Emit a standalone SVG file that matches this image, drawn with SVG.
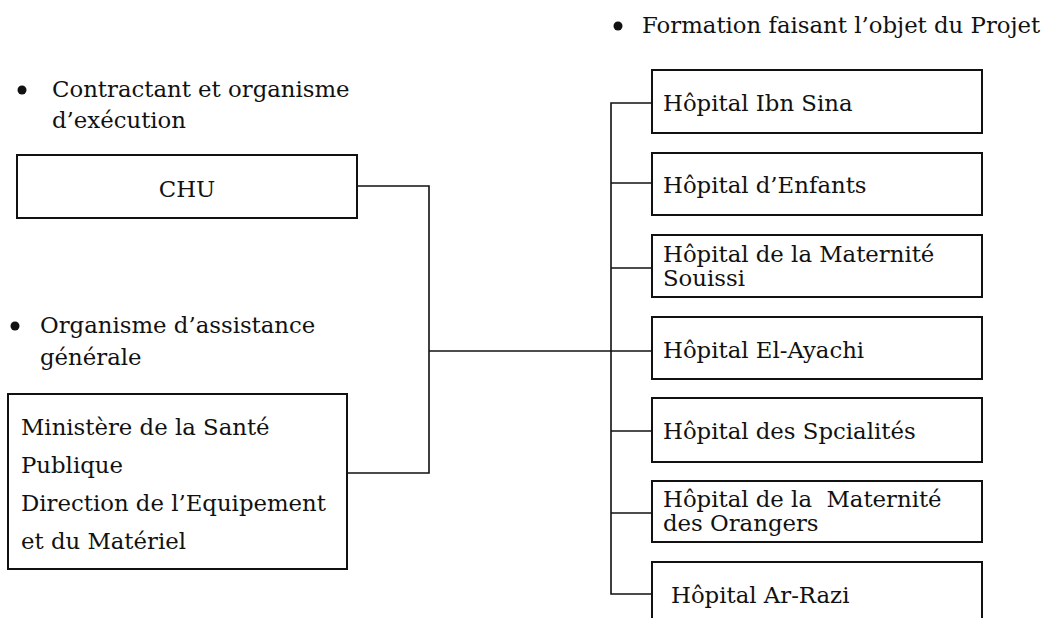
<svg xmlns="http://www.w3.org/2000/svg" width="1049" height="618" viewBox="0 0 1049 618">
<style>
.box{fill:#fff;stroke:#111;stroke-width:2}
.t{font-family:"DejaVu Serif","Liberation Serif",serif;font-size:22.8px;fill:#111}
.c{fill:none;stroke:#111;stroke-width:1.6}
.b{fill:#111}
</style>
<rect width="1049" height="618" fill="#fff"/>
<g id="labels">
<circle class="b" cx="22" cy="90" r="4.5"/>
<text class="t" x="52" y="97">Contractant et organisme</text>
<text class="t" x="52" y="128">d’exécution</text>
<circle class="b" cx="15" cy="326" r="4.5"/>
<text class="t" x="40" y="333">Organisme d’assistance</text>
<text class="t" x="40" y="365">générale</text>
<circle class="b" cx="618" cy="26" r="4.5"/>
<text class="t" x="642" y="33">Formation faisant l’objet du Projet</text>
</g>
<g id="connectors">
<polyline class="c" points="357,186 429,186 429,473 347,473"/>
<line class="c" x1="429" y1="351" x2="611" y2="351"/>
<polyline class="c" points="652,103 611,103 611,594 652,594"/>
<line class="c" x1="611" y1="183" x2="652" y2="183"/>
<line class="c" x1="611" y1="268" x2="652" y2="268"/>
<line class="c" x1="611" y1="351" x2="652" y2="351"/>
<line class="c" x1="611" y1="431" x2="652" y2="431"/>
<line class="c" x1="611" y1="513" x2="652" y2="513"/>
</g>
<g id="chu">
<rect class="box" x="17" y="155" width="340" height="63"/>
<text class="t" x="187" y="197" text-anchor="middle">CHU</text>
</g>
<g id="ministere">
<rect class="box" x="8" y="394" width="339" height="175"/>
<text class="t" x="21" y="435">Ministère de la Santé</text>
<text class="t" x="21" y="473">Publique</text>
<text class="t" x="21" y="511">Direction de l’Equipement</text>
<text class="t" x="21" y="549">et du Matériel</text>
</g>
<g id="ibnsina">
<rect class="box" x="652" y="70" width="330" height="63"/>
<text class="t" x="663" y="111">Hôpital Ibn Sina</text>
</g>
<g id="enfants">
<rect class="box" x="652" y="153" width="330" height="62"/>
<text class="t" x="663" y="193">Hôpital d’Enfants</text>
</g>
<g id="souissi">
<rect class="box" x="652" y="235" width="330" height="62"/>
<text class="t" x="663" y="262">Hôpital de la Maternité</text>
<text class="t" x="663" y="286">Souissi</text>
</g>
<g id="elayachi">
<rect class="box" x="652" y="317" width="330" height="62"/>
<text class="t" x="663" y="358">Hôpital El-Ayachi</text>
</g>
<g id="specialites">
<rect class="box" x="652" y="398" width="330" height="64"/>
<text class="t" x="663" y="439">Hôpital des Spcialités</text>
</g>
<g id="orangers">
<rect class="box" x="652" y="481" width="330" height="61"/>
<text class="t" x="663" y="507" xml:space="preserve">Hôpital de la  Maternité</text>
<text class="t" x="663" y="531">des Orangers</text>
</g>
<g id="arrazi">
<rect class="box" x="652" y="562" width="330" height="70"/>
<text class="t" x="671" y="603">Hôpital Ar-Razi</text>
</g>
</svg>
